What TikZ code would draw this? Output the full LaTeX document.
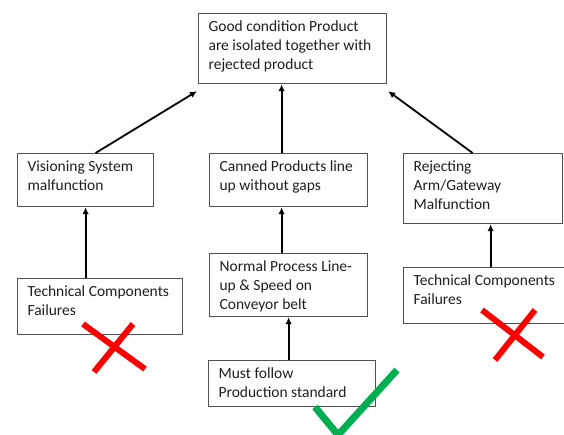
\documentclass[tikz,border=0pt]{standalone}
\usepackage{fontspec}
\setmainfont{Carlito}
\usetikzlibrary{arrows.meta}
\definecolor{boxline}{HTML}{505050}
\definecolor{txt}{HTML}{1E1E1E}
\definecolor{okgreen}{HTML}{00B050}
\newcommand{\boxtext}[3]{\parbox[c][#2][t]{#1}{\raggedright\rule{0pt}{18pt}#3}}
\tikzset{
  box/.style={draw=boxline, line width=1.2pt, anchor=north west, inner xsep=10pt, inner ysep=0pt,
    text=txt, font=\fontsize{15.5}{19}\selectfont},
  arr/.style={draw=black, line width=1.8pt, -{Latex[length=7pt,width=6.5pt]}},
  cross/.style={draw=red, line width=6pt},
  tick/.style={draw=okgreen, line width=7pt}
}
\begin{document}
\begin{tikzpicture}[x=1pt,y=1pt]
\useasboundingbox (0,0) rectangle (564,435);
\node[box] (top) at (198,422) {\boxtext{168pt}{70pt}{Good condition Product\\are isolated together with\\rejected product}};
\node[box] (vis) at (17,282) {\boxtext{116pt}{53pt}{Visioning System\\malfunction}};
\node[box] (canned) at (209,282) {\boxtext{138pt}{53pt}{Canned Products line\\up without gaps}};
\node[box] (reject) at (403,282) {\boxtext{139pt}{70pt}{Rejecting\\Arm/Gateway\\Malfunction}};
\node[box] (techL) at (17,157) {\boxtext{145pt}{56pt}{Technical Components\\Failures}};
\node[box] (normal) at (209,182) {\boxtext{138pt}{63pt}{Normal Process Line-\\up \& Speed on\\Conveyor belt}};
\node[box] (techR) at (403,168) {\boxtext{152pt}{56pt}{Technical Components\\Failures}};
\node[box] (must) at (208,75) {\boxtext{147pt}{46pt}{Must follow\\Production standard}};
% connectors
\draw[arr] ([xshift=10pt]vis.north) -- ([shift={(-1pt,-7pt)}]top.south west);
\draw[arr] ([xshift=-10.5pt]reject.north) -- ([shift={(1pt,-7pt)}]top.south east);
\draw[arr] ([xshift=-7pt]canned.north) -- ([xshift=-7pt]canned.north |- top.south);
\draw[arr] ([xshift=-7pt]normal.north) -- ([xshift=-7pt]canned.south);
\draw[arr] (normal.south |- must.north) -- (normal.south);
\draw[arr] (vis.south |- techL.north) -- (vis.south);
\draw[arr] ([xshift=7.5pt]reject.south |- techR.north) -- ([xshift=7.5pt]reject.south);
% marks
\draw[cross] (83,111) -- (145,66);
\draw[cross] (133,111) -- (94,63);
\draw[cross] (482,125) -- (543,78);
\draw[cross] (535,125) -- (495,75);
\draw[tick] (315,28) -- (338,0) -- (397,65);
\end{tikzpicture}
\end{document}
